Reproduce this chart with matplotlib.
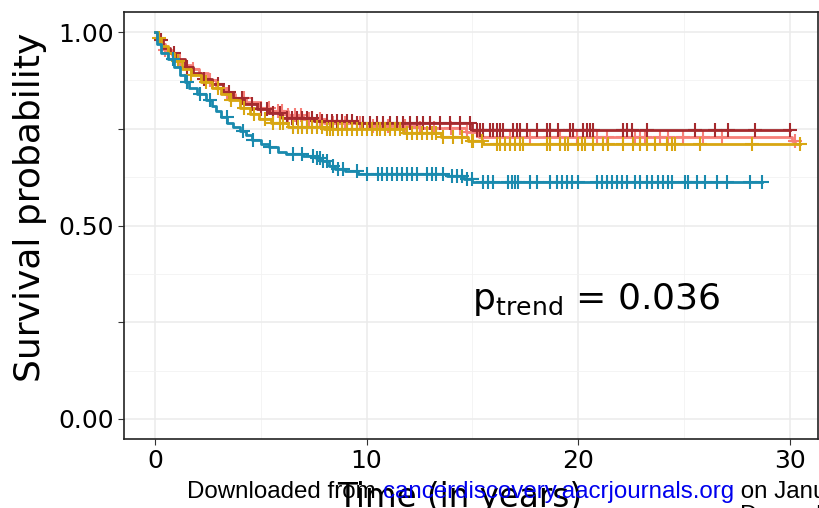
import numpy as np
import matplotlib
matplotlib.use("Agg")
import matplotlib.pyplot as plt

# ---------------- data ----------------
# step curves: time of drop -> survival after drop
red_t = [0.1, 0.4, 0.7, 1.0, 1.4, 1.8, 2.2, 2.7, 3.2, 3.7, 4.2, 4.8, 5.4, 6.0, 7.5, 9.5, 15.0]
red_s = [0.98, 0.96, 0.945, 0.93, 0.91, 0.895, 0.88, 0.865, 0.845, 0.83, 0.815, 0.80, 0.79, 0.778, 0.77, 0.764, 0.747]
red_end = 29.99
red_cens = [0.3, 0.9, 1.5, 2.3, 3.0, 3.5, 4.1, 4.6, 5.0, 5.3, 5.6,
            5.90, 6.22, 6.46, 6.69, 6.93, 7.17, 7.40, 7.64, 7.87, 8.11, 8.35, 8.58, 8.82,
            9.06, 9.29, 9.53, 9.84, 10.16, 10.47, 10.78, 11.1, 11.42, 11.73, 12.05, 12.36,
            12.67, 12.99, 13.46, 13.93, 14.41, 14.88, 15.2, 15.35, 15.51, 15.82, 15.98,
            16.14, 16.3, 16.45, 16.93, 17.08, 17.24, 17.56, 18.03, 18.5, 18.66, 19.05,
            19.6, 19.76, 20.23, 20.39, 20.55, 20.7, 22.12, 22.28, 22.52, 23.23, 25.51,
            26.45, 27.08, 28.34, 29.99]

sal_t = [0.1, 0.3, 0.5, 0.8, 1.1, 1.4, 1.7, 2.1, 2.5, 2.9, 3.3, 3.8, 4.3, 4.9, 5.5, 6.3, 7.0, 8.0, 10.0, 12.5, 14.7, 15.3, 30.1]
sal_s = [0.985, 0.97, 0.955, 0.94, 0.925, 0.915, 0.905, 0.895, 0.875, 0.855, 0.84, 0.83, 0.82, 0.805, 0.795, 0.785, 0.775, 0.765, 0.757, 0.752, 0.742, 0.728, 0.718]
sal_end = 30.23
sal_cens = [0.5, 1.2, 1.8, 2.6, 3.4, 4.2, 5.0, 5.4, 5.8, 6.0, 6.3, 6.6, 6.9, 7.3, 7.8,
            8.4, 9.0, 9.7, 10.3, 11.0, 11.8, 12.5, 13.2, 14.0, 14.4, 14.72, 15.51,
            16.77, 17.71, 18.66, 19.13, 19.92, 20.86, 21.34, 22.12, 22.67, 22.91,
            23.15, 23.85, 24.25, 24.95, 25.9, 26.77, 30.23]

gold_t = [0.1, 0.3, 0.6, 0.9, 1.3, 1.7, 2.2, 2.7, 3.1, 3.5, 4.0, 4.5, 4.9, 5.5, 6.3, 8.0, 11.7, 13.5, 14.8, 15.5]
gold_s = [0.985, 0.965, 0.945, 0.925, 0.905, 0.89, 0.87, 0.855, 0.84, 0.825, 0.805, 0.788, 0.775, 0.765, 0.755, 0.75, 0.74, 0.728, 0.718, 0.712]
gold_end = 30.47
gold_cens = [0.2, 0.6, 1.1, 1.7, 2.4, 3.0, 3.6, 4.2, 4.7, 5.2, 5.6,
             5.9, 6.06, 6.53, 6.77, 6.93, 7.17, 7.40, 7.64, 7.87, 8.11, 8.27, 8.42,
             8.66, 8.82, 9.06, 9.29, 9.53, 9.76, 10.0, 10.24, 10.47, 10.63, 10.86,
             11.1, 11.34, 11.57, 11.89, 12.13, 12.36, 12.6, 12.83, 13.07, 13.3, 13.62,
             14.09, 14.49, 14.96, 15.04, 15.43, 16.14, 16.3, 16.53, 16.77, 17.0, 17.24,
             17.4, 18.5, 18.66, 19.13, 19.37, 19.52, 20.0, 20.15, 20.31, 20.7, 21.18,
             21.41, 22.12, 22.59, 22.91, 23.23, 23.62, 24.17, 24.41, 24.56, 25.74,
             28.19, 30.47]

teal_t = [0.1, 0.3, 0.6, 0.9, 1.2, 1.4, 1.6, 2.0, 2.4, 2.7, 2.9, 3.1, 3.4, 3.7, 4.0, 4.3,
          4.6, 5.0, 5.4, 5.8, 6.2, 7.0, 7.6, 7.9, 8.2, 8.5, 9.0, 9.6, 13.8, 14.6, 15.0]
teal_s = [0.97, 0.945, 0.93, 0.91, 0.89, 0.87, 0.855, 0.84, 0.825, 0.81, 0.795, 0.78, 0.765,
          0.755, 0.745, 0.735, 0.722, 0.712, 0.703, 0.69, 0.684, 0.68, 0.675, 0.668, 0.655,
          0.645, 0.64, 0.634, 0.628, 0.62, 0.613]
teal_end = 28.66
teal_cens = [0.85, 1.5, 2.13, 2.6, 3.39, 4.17, 4.64, 5.43, 6.53, 6.93, 7.48, 7.64, 7.79,
             7.95, 8.11, 8.42, 8.66, 8.9, 9.53, 10.0, 10.55, 10.71, 10.94, 11.18, 11.42,
             11.65, 11.89, 12.13, 12.36, 12.83, 13.07, 13.3, 13.62, 14.01, 14.25, 14.49,
             14.72, 14.96, 15.51, 15.75, 15.98, 16.69, 16.85, 17.0, 17.16, 17.71, 18.03,
             18.66, 18.97, 19.21, 19.45, 19.68, 20.0, 20.86, 21.1, 21.34, 21.57, 21.81,
             22.05, 22.28, 22.67, 22.91, 23.23, 23.46, 23.78, 24.01, 24.25, 24.41, 25.03,
             25.19, 25.59, 25.98, 26.53, 27.0, 28.1, 28.66]

x_ticks = [0, 10, 20, 30]
y_ticks = [0.0, 0.25, 0.5, 0.75, 1.0]
y_labels = ["0.00", "", "0.50", "", "1.00"]
annot_text = r"$\mathregular{p_{trend}}$ = 0.036"
annot_pos = (15.0, 0.284)

series = [
    (sal_t, sal_s, sal_end, sal_cens, "#F77F78"),
    (red_t, red_s, red_end, red_cens, "#A52A2E"),
    (gold_t, gold_s, gold_end, gold_cens, "#D8A612"),
    (teal_t, teal_s, teal_end, teal_cens, "#1A8AAE"),
]

# ---------------- figure ----------------
fig = plt.figure(figsize=(8.2, 5.08), dpi=100)
ax = fig.add_axes([124 / 820, (508 - 439) / 508, (818 - 124) / 820, (439 - 12) / 508])

ax.set_xlim(-1.46, 31.32)
ax.set_ylim(-0.052, 1.052)

for t, s, tend, cens, col in series:
    tt = np.concatenate([[0.0], t, [tend]])
    ss = np.concatenate([[1.0], s, [s[-1]]])
    ax.step(tt, ss, where="post", color=col, lw=2.0, zorder=3)
    c = np.asarray(cens)
    idx = np.searchsorted(np.asarray(t), c, side="right")
    sv = np.concatenate([[1.0], s])[idx]
    ax.plot(c, sv, ls="none", marker="+", ms=10.5, mew=1.5, color=col, zorder=3)

# grid
ax.set_xticks(x_ticks)
ax.set_xticks([5, 15, 25], minor=True)
ax.set_yticks(y_ticks)
ax.set_yticklabels(y_labels)
ax.set_yticks([0.125, 0.375, 0.625, 0.875], minor=True)
ax.grid(which="major", color="#EBEBEB", lw=1.1, zorder=0)
ax.grid(which="minor", color="#F2F2F2", lw=0.6, zorder=0)
ax.set_axisbelow(True)
ax.tick_params(which="major", length=4, width=0.8, color="#333333", labelsize=18,
               labelcolor="black", pad=3)
ax.tick_params(which="minor", length=0)
for sp in ax.spines.values():
    sp.set_color("#222222")
    sp.set_linewidth(1.2)

ax.text(annot_pos[0], annot_pos[1], annot_text, fontsize=26, ha="left", va="baseline",
        zorder=5)

fig.text(30 / 820, 1 - 207 / 508, "Survival probability", rotation=90, fontsize=26,
         ha="center", va="center")
fig.text(460 / 820, 1 - 481 / 508, "Time (in years)", fontsize=23.5, ha="center", va="top")

# watermark
fig.canvas.draw()
r = fig.canvas.get_renderer()
x0 = 187 / 820
yb = 1 - 498 / 508
parts = [("Downloaded from ", "black"), ("cancerdiscovery.aacrjournals.org", "#0000EE"),
         (" on January 2022", "black")]
x = x0
for txt, col in parts:
    tx = fig.text(x, yb, txt, fontsize=17.4, family="Liberation Sans", color=col,
                  ha="left", va="baseline", zorder=10)
    bb = tx.get_window_extent(renderer=r)
    x += bb.width / 820
fig.text(740 / 820, 1 - 522 / 508, "December", fontsize=17.4, family="Liberation Sans",
         color="black", ha="left", va="baseline")

fig.savefig("out.png", dpi=100)
